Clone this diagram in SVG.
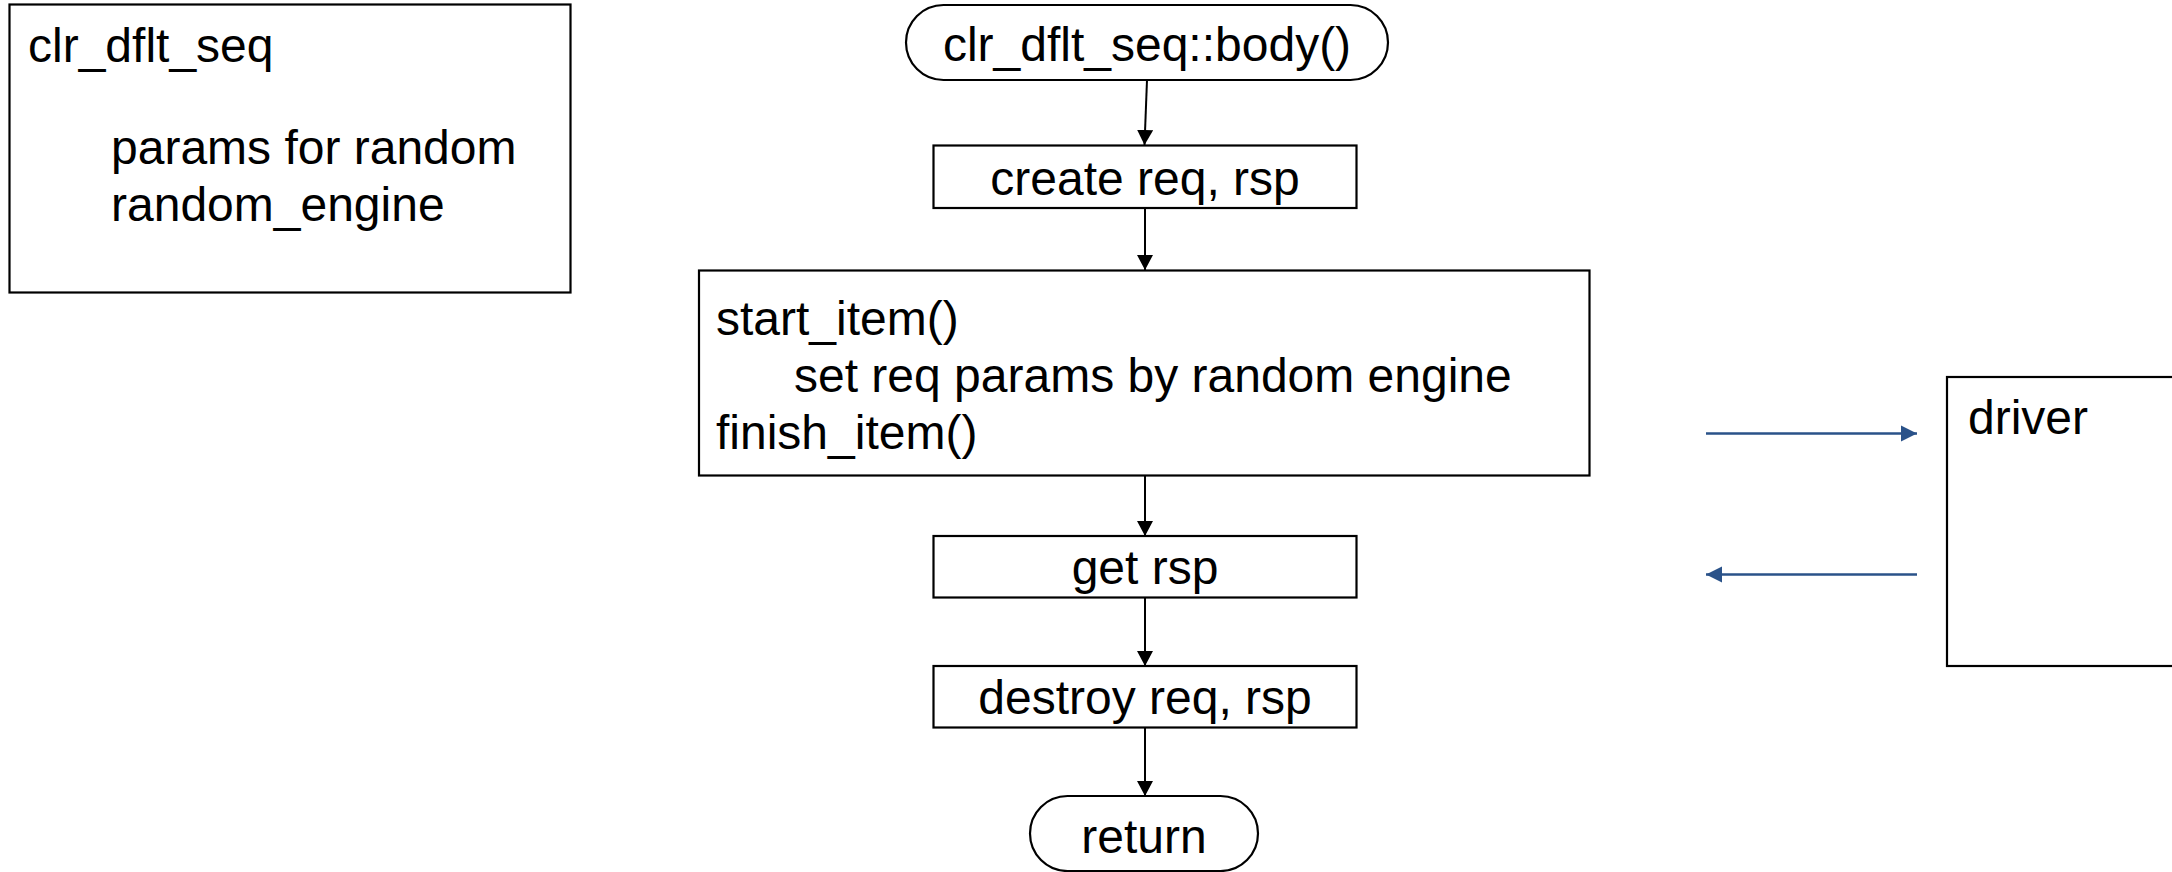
<svg xmlns="http://www.w3.org/2000/svg" width="2172" height="872" viewBox="0 0 2172 872">
<defs>
<style>
.box{fill:#fff;stroke:#000;stroke-width:2.2}
.t{font-family:"Liberation Sans",Arial,sans-serif;font-size:48px;fill:#000}
.c{text-anchor:middle}
.k{stroke:#000;stroke-width:2;fill:none}
.b{stroke:#2a5289;stroke-width:2.5;fill:none}
</style>
<marker id="ak" markerWidth="16" markerHeight="16" viewBox="0 0 16 16" refX="15" refY="8" orient="auto" markerUnits="userSpaceOnUse"><path d="M0,0 L15,8 L0,16 Z" fill="#000"/></marker>
<marker id="ab" markerWidth="17" markerHeight="17" viewBox="0 0 17 17" refX="16" refY="8.5" orient="auto" markerUnits="userSpaceOnUse"><path d="M0,0.5 L16,8.5 L0,16.5 Z" fill="#2a5289"/></marker>
</defs>
<rect width="2172" height="872" fill="#fff"/>
<g id="seq">
<rect class="box" x="9.5" y="4.5" width="561" height="288"/>
<text class="t" x="28" y="62">clr_dflt_seq</text>
<text class="t" x="111" y="164">params for random</text>
<text class="t" x="111" y="221">random_engine</text>
</g>
<g id="body">
<rect class="box" x="906" y="5" width="482" height="75" rx="37.5"/>
<text class="t c" x="1147" y="61">clr_dflt_seq::body()</text>
</g>
<g id="create">
<rect class="box" x="933.5" y="145.5" width="423" height="62.5"/>
<text class="t c" x="1145" y="195">create req, rsp</text>
</g>
<g id="item">
<rect class="box" x="699" y="270.5" width="890.5" height="205"/>
<text class="t" x="716" y="335">start_item()</text>
<text class="t" x="794" y="392">set req params by random engine</text>
<text class="t" x="716" y="449">finish_item()</text>
</g>
<g id="get">
<rect class="box" x="933.5" y="536" width="423" height="61.5"/>
<text class="t c" x="1145" y="584">get rsp</text>
</g>
<g id="destroy">
<rect class="box" x="933.5" y="666" width="423" height="61.5"/>
<text class="t c" x="1145" y="714">destroy req, rsp</text>
</g>
<g id="ret">
<rect class="box" x="1030" y="796" width="228" height="75" rx="37.5"/>
<text class="t c" x="1144" y="853">return</text>
</g>
<g id="driver">
<rect class="box" x="1947" y="377" width="240" height="289"/>
<text class="t" x="1968" y="434">driver</text>
</g>
<g id="connectors">
<line class="k" x1="1147" y1="80" x2="1144.5" y2="145" marker-end="url(#ak)"/>
<line class="k" x1="1145" y1="208" x2="1145" y2="270" marker-end="url(#ak)"/>
<line class="k" x1="1145" y1="476" x2="1145" y2="536" marker-end="url(#ak)"/>
<line class="k" x1="1145" y1="598" x2="1145" y2="666" marker-end="url(#ak)"/>
<line class="k" x1="1145" y1="728" x2="1145" y2="796" marker-end="url(#ak)"/>
<line class="b" x1="1706" y1="433.5" x2="1917" y2="433.5" marker-end="url(#ab)"/>
<line class="b" x1="1917" y1="574.5" x2="1706" y2="574.5" marker-end="url(#ab)"/>
</g>
</svg>
